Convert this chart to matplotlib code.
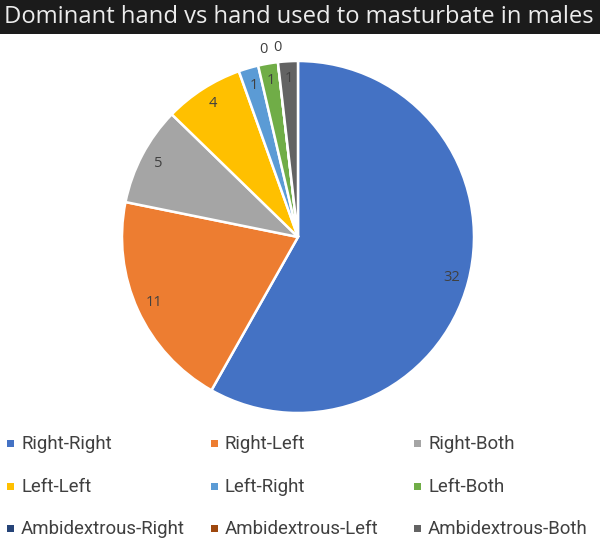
import numpy as np
import matplotlib.pyplot as plt
from matplotlib.patches import Rectangle

labels = ['Right-Right', 'Right-Left', 'Right-Both',
          'Left-Left', 'Left-Right', 'Left-Both',
          'Ambidextrous-Right', 'Ambidextrous-Left', 'Ambidextrous-Both']
counts = [32, 11, 5, 4, 1, 1, 0, 0, 1]
colors = ['#4472C4', '#ED7D31', '#A5A5A5', '#FFC000', '#5B9BD5',
          '#70AD47', '#264478', '#9E480E', '#636363']
title = 'Dominant hand vs hand used to masturbate in males'

W, H = 600, 551
fig = plt.figure(figsize=(W / 100, H / 100), dpi=100)
fig.patch.set_facecolor('white')

# title bar
fig.patches.append(Rectangle((0, 1 - 34 / H), 1, 34 / H, transform=fig.transFigure,
                             facecolor='#1b1b1b', edgecolor='none'))
t = fig.text(4 / W, 1 - 17 / H, title, color='#ececec', fontsize=18,
             family='Open Sans', va='center', ha='left')
# shrink the title so it spans the bar like the original
renderer = fig.canvas.get_renderer()
tw = t.get_window_extent(renderer).width
t.set_fontsize(18 * 589 / tw)

# pie
cx, cy, r = 298, 237, 176
ax = fig.add_axes([(cx - r) / W, (H - cy - r) / H, 2 * r / W, 2 * r / H])
wedges, _ = ax.pie(counts, colors=colors, startangle=90, counterclock=False,
                   wedgeprops=dict(edgecolor='white', linewidth=1.8))
ax.set_xlim(-1, 1)
ax.set_ylim(-1, 1)
ax.set_aspect('equal')
ax.axis('off')

total = sum(counts)
cum = np.cumsum([0] + counts)
zero_shift = [-4, 0.5]
zi = 0
for i, c in enumerate(counts):
    mid = (cum[i] + c / 2) / total * 360
    if c == 0:
        ang = np.deg2rad(90 - mid - zero_shift[zi])
        zi += 1
        d = 1.085
    else:
        ang = np.deg2rad(90 - mid)
        d = 0.9
    ax.text(d * np.cos(ang), d * np.sin(ang), str(c), ha='center', va='center',
            fontsize=10.5, color='#404040', family='Open Sans', clip_on=False)

# legend, laid out row by row
col_x = [7, 211, 414]
row_y = [443, 486, 528]
for i, lab in enumerate(labels):
    x = col_x[i % 3]
    y = row_y[i // 3]
    fig.patches.append(Rectangle((x / W, 1 - (y + 3.5) / H), 7 / W, 7 / H,
                                 transform=fig.transFigure,
                                 facecolor=colors[i], edgecolor='none'))
    fig.text((x + 14) / W, 1 - (y + 1) / H, lab, fontsize=13.4, color='#404040',
             family='Roboto', va='center', ha='left')

fig.savefig('out.png', dpi=100)
